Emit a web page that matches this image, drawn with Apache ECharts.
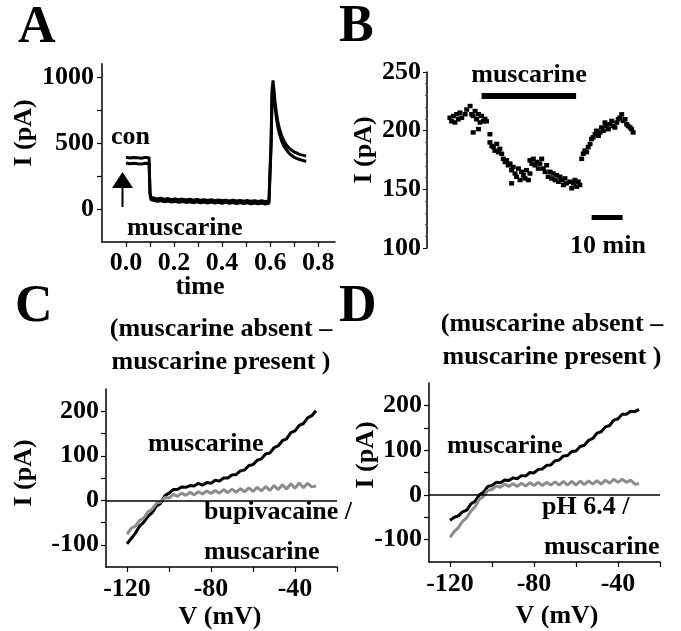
<!DOCTYPE html>
<html>
<head>
<meta charset="utf-8">
<script src="https://cdn.jsdelivr.net/npm/echarts@6/dist/echarts.min.js"></script>
<style>
  html,body{margin:0;padding:0;background:#fff}
  #chart{width:681px;height:631px}
</style>
</head>
<body>
<div id="chart"></div>
<script>
// ---------- 数据 ----------
// A：电流迹线（两条叠加），time / I(pA)
const tA = [0.000,0.008,0.016,0.024,0.032,0.040,0.048,0.056,0.064,0.072,0.080,0.088,0.096,0.100,0.104,
  0.115,0.130,0.145,0.160,0.175,0.190,0.205,0.220,0.235,0.250,0.265,0.280,0.295,0.310,0.325,0.340,0.355,
  0.370,0.385,0.400,0.415,0.430,0.445,0.460,0.475,0.490,0.505,0.520,0.535,0.550,0.565,0.580,0.595,
  0.600,0.604,0.608,0.612,0.616,0.620,0.626,0.632,0.640,0.648,0.656,0.664,0.672,0.680,0.690,0.700,
  0.710,0.720,0.730,0.740,0.750];
const aTrace1 = [392,401,387,398,390,404,388,396,385,400,391,397,389,120,88,
  84,76,82,73,79,71,77,70,75,68,74,67,72,66,71,64,70,63,69,62,67,61,66,60,65,59,64,58,63,57,62,56,60,
  65,520,900,975,900,820,730,660,600,555,520,495,475,458,445,432,425,416,410,406,400];
const aTrace2 = [348,357,343,354,346,360,342,352,340,355,347,353,345,110,70,
  66,58,63,55,61,53,58,51,57,50,55,48,54,47,53,46,52,45,51,44,50,43,49,42,48,41,47,40,46,39,45,38,44,
  50,480,860,935,860,780,690,620,560,515,482,458,438,420,405,392,384,377,371,366,362];
const aTicksX = [0,0.1,0.2,0.3,0.4,0.5,0.6,0.7,0.8];
const aLabelsX = [0,0.2,0.4,0.6,0.8];
const aTicksY = [0,250,500,750,1000];
const aLabelsY = [0,500,1000];

// B：时间(min) / I(pA) 散点
const bT = [7.4,7.95,8.5,9.0,9.6,10.1,10.6,11.2,12.3,12.8,13.9,14.4,14.9,15.5,16.0,16.6,17.1,17.6,18.2,18.7,19.2,14.9,16.6,
  20.3,20.3,20.9,21.4,21.9,22.5,23.0,23.5,24.1,24.6,25.2,25.7,26.2,26.8,27.3,27.3,27.8,28.4,28.9,29.5,30.0,30.5,31.1,31.6,32.1,32.7,33.2,
  33.2,33.8,34.3,34.8,35.4,35.9,36.4,37.0,37.5,38.1,38.6,39.1,39.7,40.2,40.7,41.3,41.8,42.4,42.9,43.4,44.0,44.5,45.0,46.1,46.7,47.2,47.7,48.3,48.8,49.3,
  49.9,50.4,50.9,51.5,52.0,52.6,53.1,53.6,54.2,54.7,55.3,55.8,56.3,56.9,57.4,57.9,58.5,59.0,59.6,60.1,60.6,61.2,61.7,62.2,62.8,63.3,63.9,64.4,64.9,65.5,66.0,66.5];
const bI = [211,208,212.5,207,214,209.7,215.3,211,214,218,221,214,212.5,216.7,209.7,214,207,212.5,208,210,208,198.5,201.3,
  197,190,187,186,183,188.7,181.7,184.5,180.3,176,173.3,174.7,170.5,171.9,166.3,155.1,169,163.5,160.7,167.7,157.9,164.9,162,159.3,166.3,157.9,163.5,
  174.7,171.9,176,170.5,173.3,167.7,171.9,176,167.7,164.9,170.5,160.7,164.9,159.3,163.5,157.9,162,156.5,160.7,157.9,153.7,159.3,155.1,156.5,150.9,155.1,157.9,152.3,156.5,153.7,
  176,180.3,183,181.7,185.9,188.7,192.9,194.3,197,199.9,195.7,198.5,202.7,199.9,206.9,204,201.3,205.5,208.3,204,202.7,206.9,209.7,211,213.9,208.3,209.7,205.5,204,202.7,201.3,198.5];
const bMuscarine = [17.6, 48.1, 230];   // 起, 止, 高度
const bScale = [53.1, 63.1, 126.5];     // 10 min 标尺

// C / D：I-V 曲线
const vmV = [-120,-118,-116,-114,-112,-110,-108,-106,-104,-102,-100,-98,-96,-94,-92,-90,-88,-86,-84,-82,
  -80,-78,-76,-74,-72,-70,-68,-66,-64,-62,-60,-58,-56,-54,-52,-50,-48,-46,-44,-42,-40,-38,-36,-34,-32,-30];
const cMusc = [-98,-86,-74,-58,-49,-36,-28,-13,-7,10,16,24,24,30,29,33,32,38,34,40,
  38,45,43,50,50,57,58,66,68,78,80,90,93,104,106,118,122,134,138,152,156,168,172,185,190,201];
const cBupi = [-76,-63,-58,-45,-40,-26,-20,-7,-4,6,5,13,9,16,11,18,12,19,14,21,
  15,22,16,24,17,25,18,26,19,28,20,29,21,31,22,33,24,35,25,37,27,39,28,38,30,32];
const dMusc = [-57,-50,-47,-38,-34,-20,-14,0,6,19,21,28,27,33,32,38,36,43,42,50,
  49,57,58,66,67,76,78,87,88,97,98,108,111,122,126,138,141,152,155,167,170,180,180,187,186,191];
const dPH = [-95,-82,-73,-59,-51,-36,-26,-10,-3,10,12,20,17,24,19,25,19,26,20,27,
  21,28,21,28,22,29,22,30,22,30,22,31,23,31,24,32,24,33,26,35,28,35,28,33,24,25];
const ivTicksX = [-120,-100,-80,-60,-40,-20];
const ivLabelsX = [-120,-80,-40];
const ivTicksY = [-100,-50,0,50,100,150,200];
const ivLabelsY = [-100,0,100,200];

// ---------- 帮助函数 ----------
const FONT = '"Liberation Serif","Times New Roman",serif';
const FS = 26;
const zip = (xs, ys) => xs.map((x, i) => [x, ys[i]]);
const lblStyle = {fontFamily: FONT, fontWeight: 'bold', fontSize: FS, color: '#000'};
const axLine = {show: true, onZero: false, lineStyle: {color: '#000', width: 1.5}};

function valAxis(grid, min, max, ticks, labels, margin, fmt){
  return {
    type: 'value', gridIndex: grid, min, max,
    axisLine: axLine, splitLine: {show: false},
    axisTick: {show: true, length: 5, lineStyle: {color: '#000', width: 1.2}, customValues: ticks},
    axisLabel: Object.assign({margin, customValues: labels, formatter: fmt || (v => String(v))}, lblStyle)
  };
}
function txt(text, x, y, opt){
  opt = opt || {};
  return {
    type: 'text', x, y, rotation: opt.rot || 0, z: 10,
    style: {
      text, fill: '#000',
      font: 'bold ' + (opt.size || FS) + 'px ' + FONT,
      align: opt.align || 'left', verticalAlign: 'middle'
    }
  };
}
const zeroLine = {
  silent: true, symbol: 'none', label: {show: false},
  lineStyle: {color: '#000', width: 1.5, type: 'solid'},
  data: [{yAxis: 0}]
};
const ivLine = (x, y, data, color) => ({
  type: 'line', xAxisIndex: x, yAxisIndex: y, data, showSymbol: false,
  lineStyle: {color, width: 3}
});

// ---------- 图表 ----------
const chart = echarts.init(document.getElementById('chart'));
chart.setOption({
  animation: false,
  backgroundColor: '#fff',
  grid: [
    {left: 102, top: 63.8, width: 233, height: 178.2},
    {left: 427, top: 72, width: 232.5, height: 176},
    {left: 106, top: 389, width: 231, height: 178},
    {left: 429, top: 383, width: 231, height: 179}
  ],
  xAxis: [
    valAxis(0, -0.1, 0.87, aTicksX, aLabelsX, 8, v => v.toFixed(1)),
    {type: 'value', gridIndex: 1, min: 0, max: 75, show: false},
    valAxis(2, -130, -20, ivTicksX, ivLabelsX, 9),
    valAxis(3, -130, -20, ivTicksX, ivLabelsX, 9)
  ],
  yAxis: [
    valAxis(0, -250, 1100, aTicksY, aLabelsY, 8),
    {
      type: 'value', gridIndex: 1, min: 100, max: 250, interval: 50,
      axisLine: axLine, splitLine: {show: false},
      axisTick: {show: true, length: 4, lineStyle: {color: '#000'}},
      minorTick: {show: true, splitNumber: 5, length: 2, lineStyle: {color: '#555'}},
      axisLabel: Object.assign({margin: 6}, lblStyle)
    },
    valAxis(2, -150, 250, ivTicksY, ivLabelsY, 7),
    valAxis(3, -150, 250, ivTicksY, ivLabelsY, 7)
  ],
  series: [
    ivLine(0, 0, zip(tA, aTrace2), '#000'),
    ivLine(0, 0, zip(tA, aTrace1), '#000'),
    {type: 'scatter', xAxisIndex: 1, yAxisIndex: 1, data: zip(bT, bI), symbol: 'rect', symbolSize: [5, 4.5],
      itemStyle: {color: '#000', opacity: 1},
      markLine: {
        silent: true, symbol: 'none', label: {show: false},
        data: [
          [{coord: [bMuscarine[0], bMuscarine[2]], lineStyle: {color: '#000', width: 6, type: 'solid'}},
           {coord: [bMuscarine[1], bMuscarine[2]]}],
          [{coord: [bScale[0], bScale[2]], lineStyle: {color: '#000', width: 5, type: 'solid'}},
           {coord: [bScale[1], bScale[2]]}]
        ]
      }},
    Object.assign(ivLine(2, 2, zip(vmV, cMusc), '#000'), {markLine: zeroLine}),
    ivLine(2, 2, zip(vmV, cBupi), '#8c8c8c'),
    Object.assign(ivLine(3, 3, zip(vmV, dMusc), '#000'), {markLine: zeroLine}),
    ivLine(3, 3, zip(vmV, dPH), '#8c8c8c')
  ],
  graphic: [
    // 面板字母
    txt('A', 18, 29, {size: 52}),
    txt('B', 339, 28, {size: 52}),
    txt('C', 15, 308, {size: 52}),
    txt('D', 339, 308, {size: 52}),
    // A
    txt('I (pA)', 24, 133, {rot: Math.PI / 2, align: 'center'}),
    txt('time', 200, 287, {align: 'center'}),
    txt('con', 111, 137),
    txt('muscarine', 127, 228),
    {type: 'polygon', shape: {points: [[112, 188], [133, 188], [122.5, 172]]}, style: {fill: '#000'}},
    {type: 'rect', shape: {x: 121.5, y: 187, width: 2, height: 20}, style: {fill: '#000'}},
    // B
    txt('I (pA)', 364, 150, {rot: Math.PI / 2, align: 'center'}),
    txt('muscarine', 529, 75, {align: 'center'}),
    txt('10 min', 608, 246, {align: 'center'}),
    // C
    txt('(muscarine absent \u2013', 221, 329, {align: 'center'}),
    txt('muscarine present )', 221, 362, {align: 'center'}),
    txt('I (pA)', 24, 473, {rot: Math.PI / 2, align: 'center'}),
    txt('V (mV)', 220, 617, {align: 'center'}),
    txt('muscarine', 148, 444),
    txt('bupivacaine /', 204, 512),
    txt('muscarine', 204, 552),
    // D
    txt('(muscarine absent \u2013', 552, 324, {align: 'center'}),
    txt('muscarine present )', 552, 357, {align: 'center'}),
    txt('I (pA)', 366, 455, {rot: Math.PI / 2, align: 'center'}),
    txt('V (mV)', 557, 616, {align: 'center'}),
    txt('muscarine', 447, 446),
    txt('pH 6.4 /', 542, 507),
    txt('muscarine', 544, 547)
  ]
});
</script>
</body>
</html>
